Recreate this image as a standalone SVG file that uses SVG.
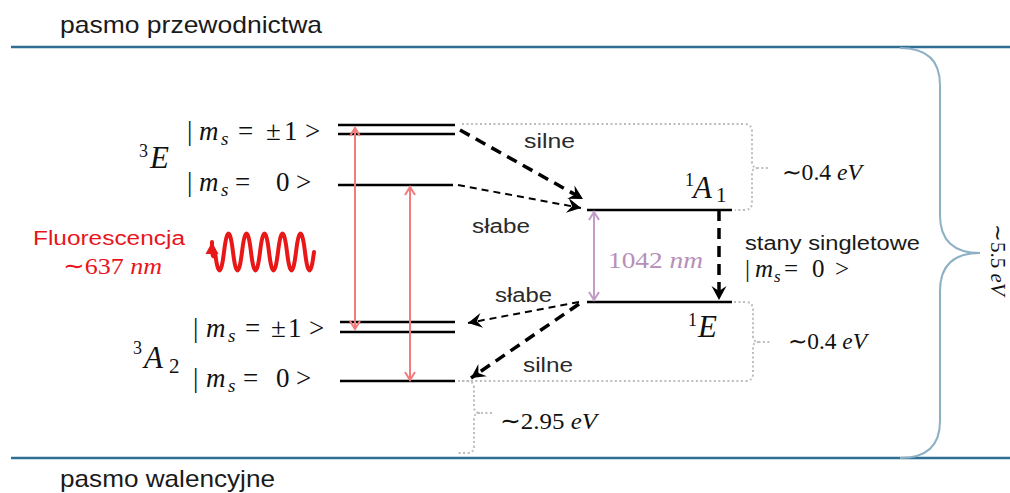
<svg xmlns="http://www.w3.org/2000/svg" width="1010" height="493" viewBox="0 0 1010 493">
<style>
.band{stroke:#2f6f93;stroke-width:2.5;fill:none}
.lvl{stroke:#000;stroke-width:2.5;fill:none}
.sans{font-family:"Liberation Sans",Arial,sans-serif;fill:#1a1a1a}
.lbl{font-family:"Liberation Sans",Arial,sans-serif;fill:#2a2a2a;font-size:20px}
.m{font-family:"Liberation Serif","Times New Roman",serif;fill:#111}
.i{font-style:italic}
.dot{stroke:#bdbdbd;stroke-width:2;stroke-dasharray:2 2.5;fill:none}
.thick{stroke:#000;stroke-width:3.5;stroke-dasharray:11 7;fill:none}
.thin{stroke:#000;stroke-width:2;stroke-dasharray:7 5;fill:none}
.red{stroke:#f27c7c;stroke-width:2;fill:none}
.pur{stroke:#c49cc7;stroke-width:2;fill:none}
</style>
<defs>
<marker id="ah" viewBox="-16 -9 18 18" refX="0" refY="0" markerWidth="18" markerHeight="18" markerUnits="userSpaceOnUse" orient="auto">
<path d="M0,0 L-14,-7.5 L-9,0 L-14,7.5 Z" fill="#000"/>
</marker>
<marker id="ahr" viewBox="-10 -7 12 14" refX="0" refY="0" markerWidth="12" markerHeight="14" markerUnits="userSpaceOnUse" orient="auto-start-reverse">
<path d="M-8,-5 L0,0 L-8,5" fill="none" stroke="#f27c7c" stroke-width="2"/>
</marker>
<marker id="ahp" viewBox="-10 -7 12 14" refX="0" refY="0" markerWidth="12" markerHeight="14" markerUnits="userSpaceOnUse" orient="auto-start-reverse">
<path d="M-8,-5 L0,0 L-8,5" fill="none" stroke="#c49cc7" stroke-width="2"/>
</marker>
<marker id="ahw" viewBox="-12 -8 14 16" refX="0" refY="0" markerWidth="14" markerHeight="16" markerUnits="userSpaceOnUse" orient="auto">
<path d="M0,0 L-12,-6.5 L-12,6.5 Z" fill="#e81818"/>
</marker>
</defs>

<g id="bands">
<line class="band" x1="11" y1="47" x2="1010" y2="47"/>
<line class="band" x1="11" y1="458" x2="1010" y2="458"/>
<text class="sans" x="60" y="33" font-size="24" textLength="262" lengthAdjust="spacingAndGlyphs">pasmo przewodnictwa</text>
<text class="sans" x="60" y="487" font-size="24" textLength="215" lengthAdjust="spacingAndGlyphs">pasmo walencyjne</text>
</g>

<g id="brace-big">
<path d="M900,48 Q940,48 940,85 V215 Q940,253 980,253 Q940,253 940,291 V421 Q940,458 900,458" fill="none" stroke="#8db0c5" stroke-width="2"/>
<text class="m" transform="translate(991,224) rotate(90)" font-size="21"><tspan>∼5.5 </tspan><tspan class="i">eV</tspan></text>
</g>

<g id="level-3E">
<line class="lvl" x1="338" y1="125" x2="455" y2="125"/>
<line class="lvl" x1="338" y1="134" x2="455" y2="134"/>
<line class="lvl" x1="338" y1="185" x2="453" y2="185"/>
<text class="m" font-size="18" x="139" y="157">3</text>
<text class="m i" font-size="31" x="150" y="168">E</text>
<text class="m" font-size="27" y="140"><tspan x="187">|</tspan><tspan class="i" x="199">m</tspan><tspan class="i" font-size="19" x="221" dy="5">s</tspan><tspan x="238" dy="-5">=</tspan><tspan x="266">±</tspan><tspan x="284">1</tspan><tspan x="305">&gt;</tspan></text>
<text class="m" font-size="27" y="191"><tspan x="187">|</tspan><tspan class="i" x="199">m</tspan><tspan class="i" font-size="19" x="221" dy="5">s</tspan><tspan x="235" dy="-5">=</tspan><tspan x="276">0</tspan><tspan x="296">&gt;</tspan></text>
</g>

<g id="level-3A2">
<line class="lvl" x1="340" y1="322" x2="455" y2="322"/>
<line class="lvl" x1="340" y1="332" x2="455" y2="332"/>
<line class="lvl" x1="340" y1="381" x2="455" y2="381"/>
<text class="m" font-size="18" x="133" y="354">3</text>
<text class="m i" font-size="31" x="144" y="368">A</text>
<text class="m" font-size="21" x="169" y="373">2</text>
<text class="m" font-size="27" y="337"><tspan x="193">|</tspan><tspan class="i" x="206">m</tspan><tspan class="i" font-size="19" x="228" dy="5">s</tspan><tspan x="245" dy="-5">=</tspan><tspan x="271">±</tspan><tspan x="288">1</tspan><tspan x="309">&gt;</tspan></text>
<text class="m" font-size="27" y="387"><tspan x="193">|</tspan><tspan class="i" x="206">m</tspan><tspan class="i" font-size="19" x="228" dy="5">s</tspan><tspan x="243" dy="-5">=</tspan><tspan x="276">0</tspan><tspan x="296">&gt;</tspan></text>
</g>

<g id="level-1A1">
<line class="lvl" x1="587" y1="210" x2="732" y2="210"/>
<text class="m" font-size="18" x="685" y="186">1</text>
<text class="m i" font-size="31" x="693" y="198">A</text>
<text class="m" font-size="21" x="716" y="202">1</text>
</g>

<g id="level-1E">
<line class="lvl" x1="587" y1="302" x2="732" y2="302"/>
<text class="m" font-size="18" x="688" y="326">1</text>
<text class="m i" font-size="31" x="698" y="337">E</text>
</g>

<g id="singlet-label">
<text class="sans" x="745" y="250" font-size="20" textLength="175" lengthAdjust="spacingAndGlyphs">stany singletowe</text>
<text class="m" font-size="25" y="277"><tspan x="745">|</tspan><tspan class="i" x="755">m</tspan><tspan class="i" font-size="17" x="774" dy="5">s</tspan><tspan x="784" dy="-5">=</tspan><tspan x="812">0</tspan><tspan x="835">&gt;</tspan></text>
</g>

<g id="fluorescence">
<text x="109" y="245" font-family="Liberation Sans,Arial,sans-serif" font-size="20" fill="#e8141c" text-anchor="middle" textLength="152" lengthAdjust="spacingAndGlyphs">Fluorescencja</text>
<text x="63" y="274" font-family="Liberation Serif,serif" font-size="24" fill="#e8141c" textLength="99" lengthAdjust="spacingAndGlyphs"><tspan>∼637 </tspan><tspan font-style="italic">nm</tspan></text>
<path d="M314,252 Q309.5,289 305,252 T296,252 T287,252 T278,252 T269,252 T260,252 T251,252 T242,252 T233,252 T224,252 T215,252 Q212,264 212,242" fill="none" stroke="#e81818" stroke-width="4" stroke-linecap="round" marker-end="url(#ahw)"/>
</g>

<g id="connectors">
<line class="red" x1="355" y1="128" x2="355" y2="329" marker-start="url(#ahr)" marker-end="url(#ahr)"/>
<line class="red" x1="410" y1="187" x2="410" y2="380" marker-start="url(#ahr)" marker-end="url(#ahr)"/>
<line class="pur" x1="594" y1="212" x2="594" y2="300" marker-start="url(#ahp)" marker-end="url(#ahp)"/>
<line class="thick" x1="460" y1="130" x2="583" y2="199" marker-end="url(#ah)"/>
<line class="thin" x1="458" y1="185" x2="581" y2="208" marker-end="url(#ah)"/>
<line class="thin" x1="579" y1="302" x2="468" y2="323" marker-end="url(#ah)"/>
<line class="thick" x1="579" y1="304" x2="471" y2="378" marker-end="url(#ah)"/>
<line class="thick" x1="719" y1="210" x2="719" y2="300" marker-end="url(#ah)"/>
<path class="dot" d="M462,124 H744 Q752,124 752,132 V162 Q752,168 758,168 H768 M758,168 Q752,168 752,174 V203 Q752,210 744,210 H735"/>
<path class="dot" d="M734,302 H745 Q753,302 753,310 V336 Q753,342 759,342 H770 M759,342 Q753,342 753,348 V374 Q753,381 745,381 H458"/>
<path class="dot" d="M458,381 H467 Q474,381 474,388 V407 Q474,413 480,413 H492 M480,413 Q474,413 474,419 V446 Q474,453 467,453 H458"/>
</g>

<g id="labels">
<text class="lbl" x="524" y="148" textLength="51" lengthAdjust="spacingAndGlyphs">silne</text>
<text class="lbl" x="472" y="233" textLength="58" lengthAdjust="spacingAndGlyphs">słabe</text>
<text class="lbl" x="495" y="302" textLength="57" lengthAdjust="spacingAndGlyphs">słabe</text>
<text class="lbl" x="523" y="372" textLength="50" lengthAdjust="spacingAndGlyphs">silne</text>
<text x="608" y="268" font-family="Liberation Serif,serif" font-size="23" fill="#b68fb9" textLength="95" lengthAdjust="spacingAndGlyphs"><tspan>1042 </tspan><tspan font-style="italic">nm</tspan></text>
<text class="m" x="782" y="180" font-size="23" textLength="80" lengthAdjust="spacingAndGlyphs"><tspan>∼0.4 </tspan><tspan class="i">eV</tspan></text>
<text class="m" x="788" y="349" font-size="23" textLength="79" lengthAdjust="spacingAndGlyphs"><tspan>∼0.4 </tspan><tspan class="i">eV</tspan></text>
<text class="m" x="500" y="429" font-size="24" textLength="97" lengthAdjust="spacingAndGlyphs"><tspan>∼2.95 </tspan><tspan class="i">eV</tspan></text>
</g>
</svg>
